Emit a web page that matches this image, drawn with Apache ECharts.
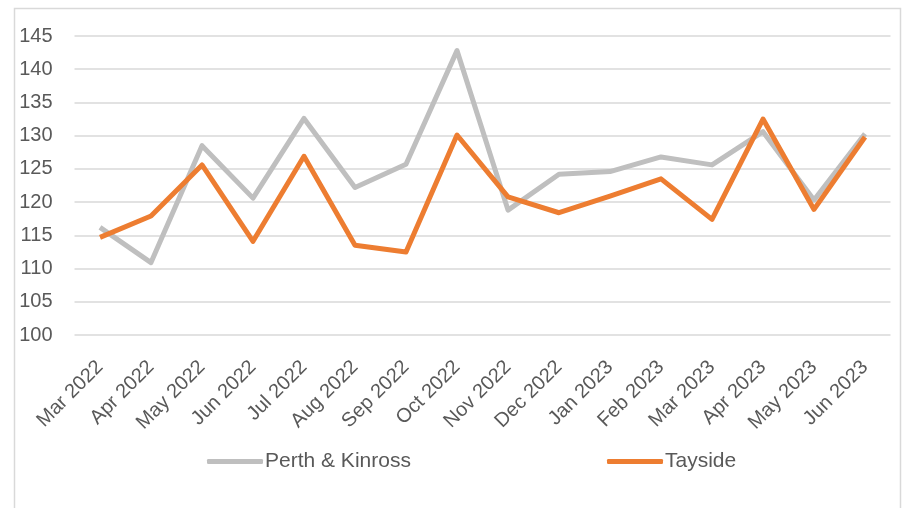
<!DOCTYPE html>
<html>
<head>
<meta charset="utf-8">
<script src="https://cdn.jsdelivr.net/npm/echarts@6/dist/echarts.min.js"></script>
<style>
html,body{margin:0;padding:0;background:#fff;}
#chart{width:908px;height:508px;}
</style>
</head>
<body>
<div id="chart"></div>
<script>
var categories = ['Mar 2022','Apr 2022','May 2022','Jun 2022','Jul 2022','Aug 2022','Sep 2022','Oct 2022','Nov 2022','Dec 2022','Jan 2023','Feb 2023','Mar 2023','Apr 2023','May 2023','Jun 2023'];
var perthKinross = [116.2,110.9,128.5,120.6,132.6,122.2,125.7,142.8,118.8,124.2,124.6,126.8,125.6,130.6,120.3,130.3];
var tayside = [114.7,117.9,125.6,114.1,126.9,113.5,112.5,130.1,120.8,118.4,120.9,123.5,117.4,132.5,118.9,129.8];
var yTicks = [100,105,110,115,120,125,130,135,140,145];

var chart = echarts.init(document.getElementById('chart'), null, {renderer:'canvas'});
var font = 'Liberation Sans';
chart.setOption({
  animation:false,
  backgroundColor:'#ffffff',
  graphic:[{
    type:'rect', left:12, top:6,
    shape:{x:0,y:0,width:886,height:520},
    style:{fill:'none', stroke:'#d9d9d9', lineWidth:1.5},
    silent:true
  }],
  grid:{left:74.5, right:17.5, top:36, bottom:173, containLabel:false},
  legend:[{
    data:['Perth & Kinross'],
    left:202, top:446,
    icon:'roundRect', itemWidth:56, itemHeight:5, itemGap:5,
    textStyle:{fontFamily:font, fontSize:21, color:'#595959', padding:[0,0,0,-3]}
  },{
    data:['Tayside'],
    left:602, top:446,
    icon:'roundRect', itemWidth:56, itemHeight:5, itemGap:5,
    textStyle:{fontFamily:font, fontSize:21, color:'#595959', padding:[0,0,0,-3]}
  }],
  xAxis:{
    type:'category',
    data:categories,
    boundaryGap:true,
    axisLine:{show:false},
    axisTick:{show:false},
    axisLabel:{rotate:45, interval:0, margin:29, fontFamily:font, fontSize:20, color:'#595959'}
  },
  yAxis:{
    type:'value',
    min:yTicks[0], max:yTicks[yTicks.length-1], interval:5,
    axisLine:{show:false},
    axisTick:{show:false},
    splitLine:{lineStyle:{color:'#d9d9d9', width:1.5}},
    axisLabel:{margin:22, fontFamily:font, fontSize:20, color:'#595959'}
  },
  series:[{
    name:'Perth & Kinross',
    type:'line',
    data:perthKinross,
    symbol:'none',
    lineStyle:{color:'#bfbfbf', width:5, join:'round'},
    itemStyle:{color:'#bfbfbf'}
  },{
    name:'Tayside',
    type:'line',
    data:tayside,
    symbol:'none',
    lineStyle:{color:'#ed7d31', width:5, join:'round'},
    itemStyle:{color:'#ed7d31'}
  }]
});
</script>
</body>
</html>
